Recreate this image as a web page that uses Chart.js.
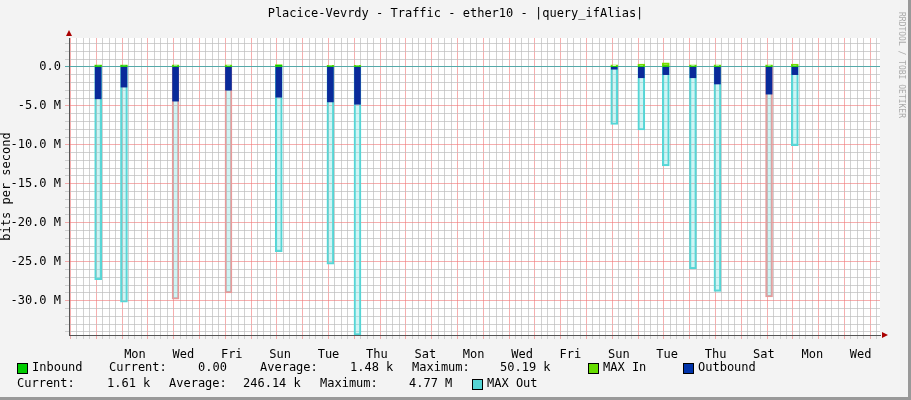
<!DOCTYPE html>
<html>
<head>
<meta charset="utf-8">
<script src="https://cdn.jsdelivr.net/npm/chart.js@4"></script>
<style>
  body { margin: 0; background: #f3f3f3; }
  #wrap { position: relative; width: 911px; height: 400px; background: #f3f3f3; border-right: 3px solid #999; border-bottom: 3px solid #999; box-sizing: border-box; }
  canvas { position: absolute; left: 0; top: 0; }
  .t { position: absolute; font-family: "DejaVu Sans Mono", monospace; font-size: 12px; color: #000; white-space: pre; }
  .sq { position: absolute; width: 9px; height: 9px; border: 1px solid #000; }
  #side { position: absolute; left: 897px; top: 12px; font-family: "DejaVu Sans Mono", monospace; font-size: 8px; color: #aaa; writing-mode: vertical-rl; }
</style>
</head>
<body>
<div id="wrap">
  <canvas id="c" width="911" height="400"></canvas>
  <div class="t" style="left:0;width:911px;text-align:center;top:6px">Placice-Vevrdy - Traffic - ether10 - |query_ifAlias|</div>
  <div id="side">RRDTOOL / TOBI OETIKER</div>
  <div id="legend"></div>
</div>
<script>
// days since the first Monday 00:00
const spikeDays = [-0.05, 0.95, 2.95, 5.0, 6.95, 8.95, 10.0, 19.95, 21.0, 21.95, 23.0, 23.95, 25.95, 26.95];
const maxOut = [-27.3, -30.2, -29.8, -29.0, -23.7, -25.3, -34.4, -7.4, -8.1, -12.7, -25.9, -28.8, -29.5, -10.1];
const outbound = [-4.1, -2.6, -4.4, -3.0, -3.9, -4.5, -4.8, -0.3, -1.4, -1.0, -1.4, -2.2, -3.5, -1.0];
const maxIn = [0.25, 0.25, 0.25, 0.25, 0.3, 0.2, 0.2, 0.25, 0.35, 0.5, 0.25, 0.25, 0.25, 0.35];
const inbound = [0.15, 0.15, 0.1, 0.1, 0.2, 0.1, 0.1, 0.05, 0.1, 0.1, 0.1, 0.1, 0.1, 0.1];
const dayNames = ['Mon', 'Tue', 'Wed', 'Thu', 'Fri', 'Sat', 'Sun'];
const xMin = -1.18, xMax = 30.25;
const yMin = -34.4, yMax = 3.7;

// legend: [text, left, top] and squares [colour, left, top]
const legendTexts = [
  ['Inbound', 32, 360], ['Current:', 109, 360], ['0.00', 198, 360], ['Average:', 260, 360], ['1.48 k', 350, 360],
  ['Maximum:', 412, 360], ['50.19 k', 500, 360], ['MAX In', 603, 360], ['Outbound', 698, 360],
  ['Current:', 17, 376], ['1.61 k', 107, 376], ['Average:', 169, 376], ['246.14 k', 243, 376],
  ['Maximum:', 320, 376], ['4.77 M', 409, 376], ['MAX Out', 487, 376]
];
const legendSquares = [['#00cc00', 17, 363], ['#66dd00', 588, 363], ['#0033aa', 683, 363], ['#55d5d5', 472, 379]];
const lg = document.getElementById('legend');
legendTexts.forEach(([t, l, tp]) => { const d = document.createElement('div'); d.className = 't'; d.textContent = t; d.style.left = l + 'px'; d.style.top = tp + 'px'; lg.appendChild(d); });
legendSquares.forEach(([c, l, tp]) => { const d = document.createElement('div'); d.className = 'sq'; d.style.background = c; d.style.left = l + 'px'; d.style.top = tp + 'px'; lg.appendChild(d); });

const pts = (arr) => arr.map((v, i) => ({ x: spikeDays[i], y: [0, v] }));
const outColor = [0,0,1,1,0,0,0,0,0,0,0,0,1,0].map(r => r ? '#e89a9a' : '#55d5d5');
const tv = c => (c.tick ? c.tick.value : NaN);

new Chart(document.getElementById('c'), {
  type: 'bar',
  data: {
    datasets: [
      { data: pts(maxOut), backgroundColor: 'rgba(120,225,225,0.35)', borderColor: outColor, borderWidth: 1.5, borderSkipped: false, barThickness: 7, grouped: false, order: 4 },
      { data: pts(maxIn), backgroundColor: 'rgba(0,0,0,0)', borderColor: '#77dd00', borderWidth: 1.5, borderSkipped: false, barThickness: 7, grouped: false, order: 3 },
      { data: pts(outbound), backgroundColor: '#0a2a9a', barThickness: 6, grouped: false, order: 2 },
      { data: pts(inbound), backgroundColor: '#00cc00', barThickness: 6, grouped: false, order: 1 }
    ]
  },
  options: {
    responsive: false,
    animation: false,
    events: [],
    layout: { padding: { left: 0, top: 38, right: 31, bottom: 0 } },
    plugins: { legend: { display: false }, tooltip: { enabled: false } },
    scales: {
      x: {
        type: 'linear', min: xMin, max: xMax, offset: false,
        afterBuildTicks: s => { s.ticks = []; for (let v = -1; v <= xMax; v += 0.25) s.ticks.push({ value: v }); },
        afterFit: s => { s.height = 5; },
        ticks: { display: false },
        border: { color: '#555', width: 1 },
        grid: {
          color: c => Number.isInteger(tv(c)) ? 'rgba(240,120,120,0.6)' : 'rgba(190,190,190,0.7)',
          lineWidth: 1, tickLength: 4, drawTicks: true
        }
      },
      xl: {
        type: 'linear', position: 'bottom', min: xMin, max: xMax,
        afterBuildTicks: s => { s.ticks = []; for (let d = 0; d <= xMax; d += 2) s.ticks.push({ value: d + 0.5 }); },
        afterFit: s => { s.height = 60; },
        ticks: {
          font: { family: 'DejaVu Sans Mono', size: 12 }, color: '#000', padding: 0, maxRotation: 0, autoSkip: false,
          callback: v => dayNames[Math.floor(v) % 7]
        },
        border: { display: false },
        grid: { display: false }
      },
      y: {
        min: yMin, max: yMax,
        afterBuildTicks: s => { s.ticks = []; for (let v = 3; v >= -34; v--) s.ticks.push({ value: v }); },
        afterFit: s => { s.width = 69; },
        title: { display: true, text: 'bits per second', font: { family: 'DejaVu Sans Mono', size: 12 }, color: '#000', padding: 0 },
        ticks: {
          font: { family: 'DejaVu Sans Mono', size: 12 }, color: '#000', padding: 4, autoSkip: false,
          callback: v => v % 5 !== 0 ? '' : (v === 0 ? '0.0' : v.toFixed(1) + ' M')
        },
        border: { color: '#555', width: 1 },
        grid: {
          color: c => tv(c) === 0 ? '#55aaaa' : (tv(c) % 5 === 0 ? 'rgba(240,120,120,0.6)' : 'rgba(190,190,190,0.7)'),
          tickLength: 4
        }
      }
    }
  },
  plugins: [{
    id: 'bg',
    beforeDraw: ch => {
      const { ctx, chartArea: a } = ch;
      ctx.save(); ctx.fillStyle = '#fff'; ctx.fillRect(a.left, a.top, a.right - a.left, a.bottom - a.top); ctx.restore();
    },
    afterDraw: ch => {
      const { ctx, chartArea: a } = ch;
      ctx.save(); ctx.fillStyle = '#a00';
      ctx.beginPath(); ctx.moveTo(a.right + 8, a.bottom); ctx.lineTo(a.right + 2, a.bottom - 3); ctx.lineTo(a.right + 2, a.bottom + 3); ctx.fill();
      ctx.beginPath(); ctx.moveTo(a.left, a.top - 8); ctx.lineTo(a.left - 3, a.top - 2); ctx.lineTo(a.left + 3, a.top - 2); ctx.fill();
      ctx.restore();
    }
  }]
});
</script>
</body>
</html>
